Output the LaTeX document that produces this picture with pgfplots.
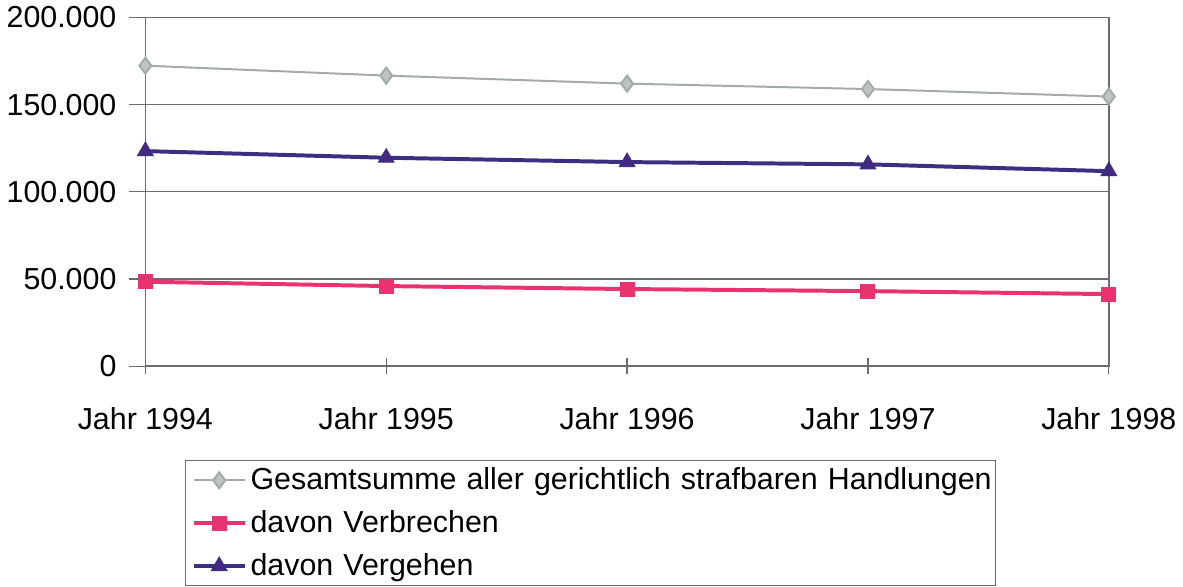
\documentclass[border=0pt]{standalone}
\usepackage{fontspec}
\setmainfont{Liberation Sans}
\usepackage{pgfplots}
\pgfplotsset{compat=1.18}
\definecolor{GesGrey}{HTML}{A3ABA9}
\definecolor{VbPink}{HTML}{E8336F}
\definecolor{VgNavy}{HTML}{3B2F82}
\definecolor{GridGrey}{HTML}{6E6A70}

\begin{document}
\begin{tikzpicture}
\begin{axis}[
  scale only axis,
  width=483.5bp, height=175bp,
  xmin=0, xmax=4,
  ymin=0, ymax=200000,
  xtick={0,1,2,3,4},
  xticklabels={Jahr 1994,Jahr 1995,Jahr 1996,Jahr 1997,Jahr 1998},
  ytick={0,50000,100000,150000,200000},
  yticklabels={0,50.000,100.000,150.000,200.000},
  scaled y ticks=false,
  ymajorgrids=true,
  grid style={GridGrey, line width=0.6pt},
  axis line style={GridGrey, line width=0.8pt},
  tick style={GridGrey, line width=0.6pt},
  major tick length=8bp,
  xtick align=center, ytick align=outside,
  xtick pos=bottom, ytick pos=left,
  tick label style={font=\fontsize{15.3}{18}\selectfont, black},
  yticklabel style={xshift=-3bp},
  xticklabel style={yshift=-13bp},
  legend cell align=left,
  legend style={
    at={(0.0414,-0.27)}, anchor=north west,
    draw=GridGrey, line width=0.6pt,
    font=\fontsize{15.3}{18}\selectfont,
    text width=369bp,
    inner xsep=3bp, inner ysep=1.5bp,
    row sep=5bp,
  },
  legend image code/.code={
    \draw[mark repeat=2,mark phase=2] plot coordinates {(0cm,0cm) (0.45cm,0cm) (0.9cm,0cm)};
  },
]
\addplot[GesGrey, line width=1pt, mark=diamond*, mark size=4bp,
  mark options={fill=GesGrey!70}]
  coordinates {(0,172300) (1,166600) (2,162000) (3,158900) (4,154600)};
\addlegendentry{\mbox{Gesamtsumme aller gerichtlich strafbaren Handlungen}}
\addplot[VbPink, line width=2pt, mark=square*, mark size=3.5bp,
  mark options={solid, line width=0.5pt}]
  coordinates {(0,48400) (1,45900) (2,44200) (3,43000) (4,41300)};
\addlegendentry{davon Verbrechen}
\addplot[VgNavy, line width=2pt, mark=triangle*, mark size=4.5bp,
  mark options={solid, line width=0.5pt, fill=VgNavy!85!violet}]
  coordinates {(0,123300) (1,119500) (2,117000) (3,115700) (4,111800)};
\addlegendentry{davon Vergehen}
\end{axis}
\end{tikzpicture}
\end{document}
